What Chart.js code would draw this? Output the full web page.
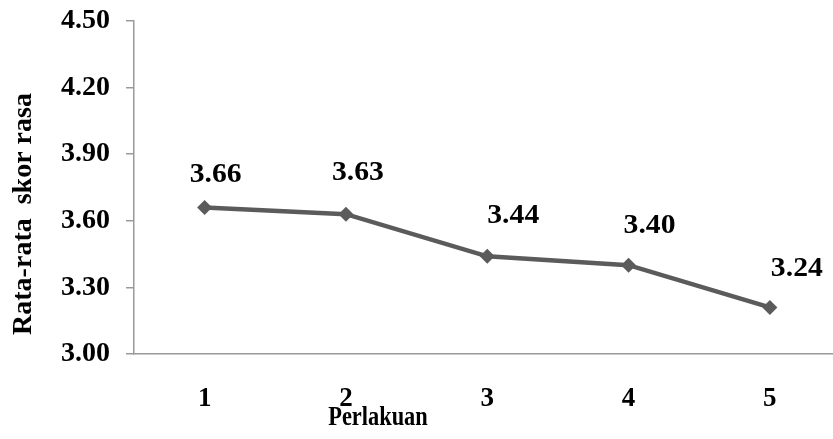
<!DOCTYPE html>
<html>
<head>
<meta charset="utf-8">
<script src="https://cdn.jsdelivr.net/npm/chart.js@4/dist/chart.umd.min.js"></script>
<style>
  html, body { margin: 0; padding: 0; background: #fff; overflow: hidden; width: 833px; height: 439px; }
  #wrap { width: 848px; height: 439px; }
  #c { display: block; }
</style>
</head>
<body>
<div id="wrap"><canvas id="c" width="848" height="439" style="width:848px;height:439px"></canvas></div>
<script>
const categories = ['1', '2', '3', '4', '5'];
const values = [3.66, 3.63, 3.44, 3.40, 3.21];
const valueLabels = ['3.66', '3.63', '3.44', '3.40', '3.24'];
const yTicks = [3.00, 3.30, 3.60, 3.90, 4.20, 4.50];
const xTitle = 'Perlakuan';
const yTitle = 'Rata-rata  skor rasa';

const FONT = '"Liberation Serif", "Times New Roman", serif';

function stretchedText(ctx, text, x, y, sx) {
  ctx.save();
  ctx.translate(x, y);
  ctx.scale(sx, 1);
  ctx.fillText(text, 0, 0);
  ctx.restore();
}

const labelPlugin = {
  id: 'customText',
  afterDatasetsDraw(chart, args, opts) {
    const ctx = chart.ctx;
    const meta = chart.getDatasetMeta(0);
    ctx.save();
    ctx.fillStyle = '#000';
    ctx.font = 'bold 27px ' + FONT;
    ctx.textAlign = 'center';
    ctx.textBaseline = 'middle';
    meta.data.forEach((pt, i) => {
      const off = opts.offsets[i];
      stretchedText(ctx, valueLabels[i], pt.x + off[0], pt.y + off[1], 1.1);
    });
    // x title
    ctx.font = 'bold 28px ' + FONT;
    stretchedText(ctx, xTitle, 378, 418, 0.8);
    // y title
    ctx.font = 'bold 28px ' + FONT;
    ctx.translate(24, 214);
    ctx.rotate(-Math.PI / 2);
    ctx.fillText(yTitle, 0, 0);
    ctx.restore();
  }
};

new Chart(document.getElementById('c'), {
  type: 'line',
  data: {
    labels: categories,
    datasets: [{
      data: values,
      borderColor: '#5b5b5b',
      backgroundColor: '#5b5b5b',
      borderWidth: 4.5,
      pointStyle: 'rectRot',
      pointRadius: 7.5,
      pointHoverRadius: 7.5,
      pointBackgroundColor: '#5b5b5b',
      pointBorderColor: '#5b5b5b',
      pointBorderWidth: 0,
      tension: 0
    }]
  },
  options: {
    responsive: false,
    animation: false,
    events: [],
    layout: { padding: { top: 21, left: 0, right: 0, bottom: 0 } },
    plugins: {
      legend: { display: false },
      tooltip: { enabled: false },
      customText: {
        offsets: [[11, -32], [12, -41], [26, -40], [21, -39], [27, -38]]
      }
    },
    scales: {
      x: {
        offset: true,
        grid: { display: false, drawTicks: false },
        border: { display: true, color: '#9a9a9a', width: 1.5 },
        ticks: {
          color: '#000',
          font: { family: FONT, size: 27, weight: 'bold' },
          padding: 29
        },
        afterFit(scale) { scale.height = 85; scale.paddingLeft = 0; scale.paddingRight = 0; }
      },
      y: {
        min: 3.0,
        max: 4.5,
        afterBuildTicks(scale) { scale.ticks = yTicks.map(v => ({ value: v })); },
        grid: { drawOnChartArea: false, drawTicks: true, tickLength: 8, color: '#9a9a9a', lineWidth: 1.5 },
        border: { display: true, color: '#9a9a9a', width: 1.5 },
        ticks: {
          color: '#000',
          font: { family: FONT, size: 28, weight: 'bold' },
          padding: 16,
          callback: (v) => Number(v).toFixed(2)
        },
        afterFit(scale) { scale.width = 134; scale.paddingTop = 0; scale.paddingBottom = 0; }
      }
    }
  },
  plugins: [labelPlugin]
});
</script>
</body>
</html>
